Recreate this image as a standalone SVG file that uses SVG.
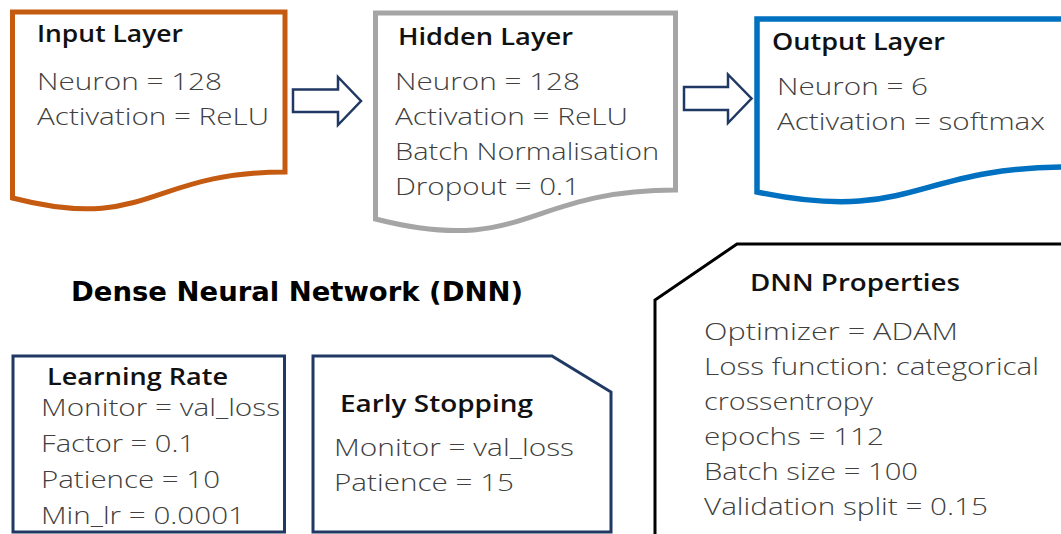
<svg xmlns="http://www.w3.org/2000/svg" width="1061" height="534" viewBox="0 0 1061 534">
<style>
.bg{fill:#fff}
.doc{fill:#fff;stroke-linejoin:miter}
.box{fill:#fff;stroke:#203864;stroke-width:3}
.arrow{fill:#fff;stroke:#203864;stroke-width:2.5;stroke-linejoin:miter}
.t{font-family:"Open Sans","Noto Sans",sans-serif;font-weight:600;fill:#111;font-size:24px}
.b{font-family:"Open Sans","Noto Sans",sans-serif;font-weight:300;fill:#404040;font-size:24px}
.bs{font-family:"Open Sans","Noto Sans",sans-serif;font-weight:300;fill:#404040;font-size:23px}
.h{font-family:"DejaVu Sans",sans-serif;font-weight:bold;fill:#000;font-size:26px}
</style>
<rect class="bg" x="0" y="0" width="1061" height="534"/>
<g id="connectors">
<path class="arrow" d="M293,89.5 H338 V77 L361,101 L338,125 V112 H293 Z"/>
<path class="arrow" d="M684,87 H728 V74.5 L751.5,98.5 L728,123 V110 H684 Z"/>
</g>
<g id="input-layer">
<path class="doc" stroke="#c55a11" stroke-width="5" d="M12.5,12 H285 V172 C148.5,172 148.5,233 12.5,198 Z"/>
<text class="t" x="37" y="42" textLength="146" lengthAdjust="spacingAndGlyphs">Input Layer</text>
<text class="b" x="37" y="90" textLength="185" lengthAdjust="spacingAndGlyphs">Neuron = 128</text>
<text class="b" x="37" y="125" textLength="232" lengthAdjust="spacingAndGlyphs">Activation = ReLU</text>
</g>
<g id="hidden-layer">
<path class="doc" stroke="#a5a5a5" stroke-width="5" d="M375.5,13 H675.5 V190 C525.5,190 525.5,257 375.5,219 Z"/>
<text class="t" x="398" y="45" textLength="175" lengthAdjust="spacingAndGlyphs">Hidden Layer</text>
<text class="b" x="395" y="90" textLength="185" lengthAdjust="spacingAndGlyphs">Neuron = 128</text>
<text class="b" x="395" y="125" textLength="233" lengthAdjust="spacingAndGlyphs">Activation = ReLU</text>
<text class="b" x="395" y="160" textLength="264" lengthAdjust="spacingAndGlyphs">Batch Normalisation</text>
<text class="b" x="395" y="195" textLength="185" lengthAdjust="spacingAndGlyphs">Dropout = 0.1</text>
</g>
<g id="output-layer">
<path class="doc" stroke="#0070c0" stroke-width="5.5" d="M757,19 H1069 V167 C913,167 913,224 757,192 Z"/>
<text class="t" x="772" y="50" textLength="173" lengthAdjust="spacingAndGlyphs">Output Layer</text>
<text class="b" x="777" y="95" textLength="151" lengthAdjust="spacingAndGlyphs">Neuron = 6</text>
<text class="b" x="777" y="130" textLength="268" lengthAdjust="spacingAndGlyphs">Activation = softmax</text>
</g>
<g id="title">
<text class="h" x="71" y="301" textLength="452" lengthAdjust="spacingAndGlyphs">Dense Neural Network (DNN)</text>
</g>
<g id="learning-rate">
<rect class="box" x="13" y="356" width="271.5" height="176"/>
<text class="t" x="47" y="385" textLength="181" lengthAdjust="spacingAndGlyphs">Learning Rate</text>
<text class="bs" x="41" y="416" textLength="239" lengthAdjust="spacingAndGlyphs">Monitor = val_loss</text>
<text class="bs" x="41" y="452" textLength="154" lengthAdjust="spacingAndGlyphs">Factor = 0.1</text>
<text class="bs" x="41" y="488" textLength="179" lengthAdjust="spacingAndGlyphs">Patience = 10</text>
<text class="bs" x="41" y="524" textLength="204" lengthAdjust="spacingAndGlyphs">Min_lr = 0.0001</text>
</g>
<g id="early-stopping">
<path class="box" d="M313,532 V356 H552 L611,392 V532 Z"/>
<text class="t" x="340" y="412" textLength="193" lengthAdjust="spacingAndGlyphs">Early Stopping</text>
<text class="bs" x="334" y="456" textLength="240" lengthAdjust="spacingAndGlyphs">Monitor = val_loss</text>
<text class="bs" x="334" y="491" textLength="180" lengthAdjust="spacingAndGlyphs">Patience = 15</text>
</g>
<g id="dnn-properties">
<path fill="#fff" stroke="#000" stroke-width="3" d="M655,540 V300 L737,244 H1070"/>
<text class="t" x="750" y="291" textLength="210" lengthAdjust="spacingAndGlyphs">DNN Properties</text>
<text class="bs" x="704" y="340" textLength="254" lengthAdjust="spacingAndGlyphs">Optimizer = ADAM</text>
<text class="bs" x="704" y="375" textLength="335" lengthAdjust="spacingAndGlyphs">Loss function: categorical</text>
<text class="bs" x="704" y="410" textLength="169" lengthAdjust="spacingAndGlyphs">crossentropy</text>
<text class="bs" x="704" y="445" textLength="180" lengthAdjust="spacingAndGlyphs">epochs = 112</text>
<text class="bs" x="704" y="480" textLength="214" lengthAdjust="spacingAndGlyphs">Batch size = 100</text>
<text class="bs" x="704" y="515" textLength="284" lengthAdjust="spacingAndGlyphs">Validation split = 0.15</text>
</g>
</svg>
